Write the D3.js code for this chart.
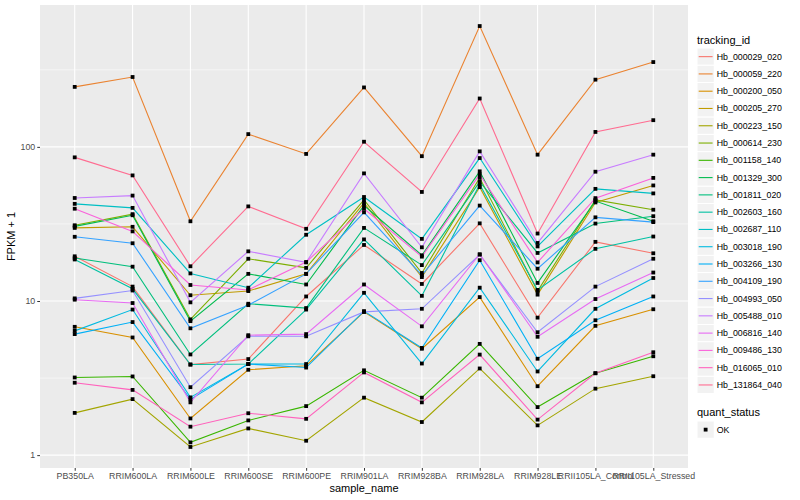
<!DOCTYPE html>
<html>
<head>
<meta charset="utf-8">
<title>FPKM by sample</title>
<style>
  body { margin: 0; background: #fff; }
  text { font-family: "Liberation Sans", Arial, Helvetica, sans-serif; }
</style>
</head>
<body>
<script src="https://cdn.jsdelivr.net/npm/d3@7"></script>
<script>

var samples = ['PB350LA', 'RRIM600LA', 'RRIM600LE', 'RRIM600SE', 'RRIM600PE', 'RRIM901LA',
               'RRIM928BA', 'RRIM928LA', 'RRIM928LE', 'RRII105LA_Control', 'RRII105LA_Stressed'];

var trackingIds = ['Hb_000029_020', 'Hb_000059_220', 'Hb_000200_050', 'Hb_000205_270', 'Hb_000223_150',
                   'Hb_000614_230', 'Hb_001158_140', 'Hb_001329_300', 'Hb_001811_020', 'Hb_002603_160',
                   'Hb_002687_110', 'Hb_003018_190', 'Hb_003266_130', 'Hb_004109_190', 'Hb_004993_050',
                   'Hb_005488_010', 'Hb_006816_140', 'Hb_009486_130', 'Hb_016065_010', 'Hb_131864_040'];

// FPKM + 1, one row per tracking_id, in sample order
var hb_000029_020 = [19.5, 12.4, 3.87, 4.2, 10.7, 23.1, 12.9, 31.9, 7.8, 24.2, 20.4];
var hb_000059_220 = [245, 284, 32.9, 121, 90, 243, 87, 608, 89, 273, 355];
var hb_000200_050 = [6.8, 5.8, 1.73, 3.58, 3.8, 8.5, 4.9, 10.6, 2.8, 6.9, 8.84];
var hb_000205_270 = [29.8, 30.3, 10.9, 11.6, 15.0, 43.3, 14.3, 54.8, 11.0, 43.6, 56.2];
var hb_000223_150 = [1.88, 2.31, 1.13, 1.49, 1.24, 2.36, 1.64, 3.65, 1.56, 2.70, 3.25];
var hb_000614_230 = [31.0, 36.6, 7.6, 18.8, 16.4, 45.3, 15.2, 63, 11.6, 45.3, 39.1];
var hb_001158_140 = [3.19, 3.24, 1.21, 1.68, 2.08, 3.55, 2.36, 5.27, 2.05, 3.40, 4.38];
var hb_001329_300 = [30.5, 36.0, 7.4, 15.0, 12.8, 41.6, 19.8, 69.4, 13.1, 44.5, 32.9];
var hb_001811_020 = [19.0, 16.7, 4.5, 9.6, 9.0, 29.8, 17.1, 59.5, 20.5, 31.8, 35.5];
var hb_002603_160 = [18.6, 12.0, 3.87, 3.9, 8.8, 25.1, 10.8, 57, 11.8, 21.8, 26.2];
var hb_002687_110 = [42.7, 40.2, 15.1, 12.2, 26.9, 47.3, 25.3, 84.6, 22.6, 53.4, 49.9];
var hb_003018_190 = [6.4, 8.8, 2.37, 3.9, 3.9, 11.3, 3.93, 12.2, 3.49, 8.9, 14.1];
var hb_003266_130 = [6.1, 7.3, 2.3, 3.9, 3.7, 8.6, 4.96, 18.4, 4.22, 7.5, 10.7];
var hb_004109_190 = [26.1, 23.7, 6.65, 9.4, 15.0, 37.6, 14.7, 41.6, 16.2, 34.9, 32.5];
var hb_004993_050 = [10.4, 11.7, 2.76, 5.9, 5.9, 8.5, 8.9, 20.0, 6.27, 12.4, 18.8];
var hb_005488_010 = [46.6, 48.3, 9.8, 21.0, 17.8, 67.3, 22.3, 93.5, 23.8, 69, 89];
var hb_006816_140 = [10.2, 9.7, 2.2, 6.0, 6.1, 12.8, 6.85, 20.1, 5.86, 10.3, 15.3];
var hb_009486_130 = [39.7, 28.3, 12.7, 11.8, 17.9, 39.7, 19.4, 66.3, 17.8, 46.5, 62.9];
var hb_016065_010 = [2.95, 2.65, 1.53, 1.87, 1.72, 3.44, 2.2, 4.49, 1.70, 3.40, 4.65];
var hb_131864_040 = [85.5, 65.3, 16.8, 41.1, 29.4, 108, 51, 206, 27.4, 125, 149];

var yTicks = [1, 10, 100];
var yMinor = [Math.sqrt(10), Math.sqrt(1000), Math.sqrt(100000)];

var rows = [hb_000029_020, hb_000059_220, hb_000200_050, hb_000205_270, hb_000223_150,
            hb_000614_230, hb_001158_140, hb_001329_300, hb_001811_020, hb_002603_160,
            hb_002687_110, hb_003018_190, hb_003266_130, hb_004109_190, hb_004993_050,
            hb_005488_010, hb_006816_140, hb_009486_130, hb_016065_010, hb_131864_040];

// ggplot's default hue palette for 20 levels
var palette = ['#F8766D', '#EA8331', '#D89000', '#C09B00', '#A3A500', '#7CAE00', '#39B600',
               '#00BB4E', '#00BF7D', '#00C1A3', '#00BFC4', '#00BAE0', '#00B0F6', '#35A2FF',
               '#9590FF', '#C77CFF', '#E76BF3', '#FA62DB', '#FF62BC', '#FF6C91'];

var series = trackingIds.map(function(id, i){
  return { id: id, values: rows[i].map(function(v, j){ return { sample: samples[j], value: v }; }) };
});

var width = 800, height = 500,
    panel = { left: 40, right: 688, top: 5, bottom: 468 };

var colour = d3.scaleOrdinal().domain(trackingIds).range(palette);

var all = d3.merge(rows),
    lo = Math.log10(d3.min(all)), hi = Math.log10(d3.max(all)),
    pad = (hi - lo) * 0.05;

var x = d3.scalePoint().domain(samples).range([panel.left, panel.right]).padding(0.6),
    y = d3.scaleLog().domain([Math.pow(10, lo - pad), Math.pow(10, hi + pad)]).range([panel.bottom, panel.top]);

var svg = d3.select('body').append('svg')
  .attr('width', width)
  .attr('height', height);

svg.append('rect')
  .attr('x', panel.left).attr('y', panel.top)
  .attr('width', panel.right - panel.left).attr('height', panel.bottom - panel.top)
  .attr('fill', '#EBEBEB');

var grid = svg.append('g');
grid.selectAll('.minor').data(yMinor.filter(function(v){ return y(v) > panel.top; }))
  .enter().append('line')
  .attr('x1', panel.left).attr('x2', panel.right)
  .attr('y1', y).attr('y2', y)
  .attr('stroke', '#fff').attr('stroke-width', 0.55);
grid.selectAll('.majorY').data(yTicks)
  .enter().append('line')
  .attr('x1', panel.left).attr('x2', panel.right)
  .attr('y1', y).attr('y2', y)
  .attr('stroke', '#fff').attr('stroke-width', 1.1);
grid.selectAll('.majorX').data(samples)
  .enter().append('line')
  .attr('x1', x).attr('x2', x)
  .attr('y1', panel.top).attr('y2', panel.bottom)
  .attr('stroke', '#fff').attr('stroke-width', 1.1);

var line = d3.line()
  .x(function(d){ return x(d.sample); })
  .y(function(d){ return y(d.value); });

svg.append('g').selectAll('path')
  .data(series)
  .enter().append('path')
  .attr('d', function(d){ return line(d.values); })
  .attr('fill', 'none')
  .attr('stroke', function(d){ return colour(d.id); })
  .attr('stroke-width', 1.1);

svg.append('g').selectAll('rect')
  .data(d3.merge(series.map(function(s){ return s.values; })))
  .enter().append('rect')
  .attr('x', function(d){ return x(d.sample) - 1.9; })
  .attr('y', function(d){ return y(d.value) - 1.9; })
  .attr('width', 3.8).attr('height', 3.8)
  .attr('fill', '#000');

// axes
var xAxis = svg.append('g')
  .attr('transform', 'translate(0,' + panel.bottom + ')')
  .call(d3.axisBottom(x).tickSize(2.75).tickPadding(2));
var yAxis = svg.append('g')
  .attr('transform', 'translate(' + panel.left + ',0)')
  .call(d3.axisLeft(y).tickValues(yTicks).tickFormat(d3.format('d')).tickSize(2.75).tickPadding(2));

[xAxis, yAxis].forEach(function(a){
  a.select('.domain').remove();
  a.selectAll('.tick line').attr('stroke', '#333333').attr('stroke-width', 1);
  a.selectAll('.tick text').attr('fill', '#4D4D4D').style('font-size', '8.8px');
});

svg.append('text')
  .attr('x', (panel.left + panel.right) / 2).attr('y', 492)
  .attr('text-anchor', 'middle')
  .style('font-size', '11px')
  .text('sample_name');

svg.append('text')
  .attr('transform', 'translate(15,' + ((panel.top + panel.bottom) / 2) + ') rotate(-90)')
  .attr('text-anchor', 'middle')
  .style('font-size', '11px')
  .text('FPKM + 1');

// legends
var legend = svg.append('g').attr('transform', 'translate(697,0)'),
    keySize = 17.28, firstKey = 48;

legend.append('text')
  .attr('x', 0).attr('y', 44)
  .style('font-size', '11px')
  .text('tracking_id');

var keys = legend.selectAll('.key').data(trackingIds)
  .enter().append('g')
  .attr('transform', function(d, i){ return 'translate(0,' + (firstKey + i * keySize) + ')'; });

keys.append('rect')
  .attr('width', keySize).attr('height', keySize)
  .attr('fill', '#F2F2F2').attr('stroke', '#fff');
keys.append('line')
  .attr('x1', 1.7).attr('x2', keySize - 1.7)
  .attr('y1', keySize / 2).attr('y2', keySize / 2)
  .attr('stroke', colour).attr('stroke-width', 1.1);
keys.append('text')
  .attr('x', keySize + 2.5).attr('y', keySize / 2 + 3)
  .style('font-size', '8.8px')
  .text(function(d){ return d; });

legend.append('text')
  .attr('x', 0).attr('y', 416)
  .style('font-size', '11px')
  .text('quant_status');

var ok = legend.append('g').attr('transform', 'translate(0,421)');
ok.append('rect')
  .attr('width', keySize).attr('height', keySize)
  .attr('fill', '#F2F2F2').attr('stroke', '#fff');
ok.append('rect')
  .attr('x', keySize / 2 - 1.9).attr('y', keySize / 2 - 1.9)
  .attr('width', 3.8).attr('height', 3.8)
  .attr('fill', '#000');
ok.append('text')
  .attr('x', keySize + 2.5).attr('y', keySize / 2 + 3)
  .style('font-size', '8.8px')
  .text('OK');

</script>
</body>
</html>
